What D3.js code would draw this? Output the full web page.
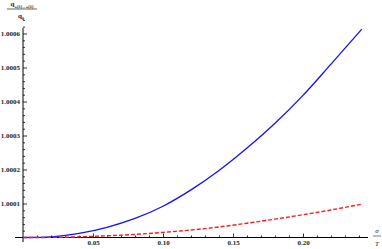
<!DOCTYPE html>
<html>
<head>
<meta charset="utf-8">
<script src="https://cdn.jsdelivr.net/npm/d3@7"></script>
<style>
  body { margin: 0; background: #fff; }
  svg { display: block; font-family: "Liberation Serif", "DejaVu Serif", serif; }
</style>
</head>
<body>
<div id="chart"></div>
<script>
// sigma / T
const sigmaT = [0, 0.02, 0.04, 0.06, 0.08, 0.10, 0.12, 0.14, 0.16, 0.18, 0.20, 0.22, 0.242];
// q_{+(λ),+(λ)} / q_0, solid blue curve
const solidRatio = [1, 1.000002, 1.000012, 1.000030, 1.000056, 1.000092, 1.000140,
                    1.000197, 1.000263, 1.000336, 1.000418, 1.000510, 1.000613];
// dashed red curve
const dashedRatio = [1, 1.0000003, 1.000002, 1.000005, 1.000009, 1.000015, 1.000022,
                     1.000031, 1.000042, 1.000054, 1.000067, 1.000081, 1.000098];

const xMajor = [0.05, 0.10, 0.15, 0.20];
const yMajor = [1.0001, 1.0002, 1.0003, 1.0004, 1.0005, 1.0006];

const width = 382, height = 249;

const svg = d3.select('#chart')
  .append('svg')
  .attr('width', width)
  .attr('height', height);

const x = d3.scaleLinear().domain([0, 0.25]).range([23, 373]);
const y = d3.scaleLinear().domain([1, 1.0006]).range([237.5, 33.5]);

const xMinor = d3.range(0.01, 0.245, 0.01).filter(v => Math.abs(v * 20 - Math.round(v * 20)) > 1e-6);
const yMinor = d3.range(1.00002, 1.00064, 0.00002).filter(v => Math.abs((v - 1) * 10000 - Math.round((v - 1) * 10000)) > 1e-6);

// axis lines (Mathematica style, crossing at origin)
svg.append('line')
  .attr('x1', 15).attr('x2', 368)
  .attr('y1', y(1)).attr('y2', y(1))
  .attr('stroke', '#000').attr('stroke-width', 1);
svg.append('line')
  .attr('x1', x(0)).attr('x2', x(0))
  .attr('y1', 28).attr('y2', 242)
  .attr('stroke', '#000').attr('stroke-width', 1);

// x ticks
const gx = svg.append('g').attr('transform', `translate(0,${y(1)})`);
gx.call(d3.axisBottom(x).tickValues(xMajor).tickSizeInner(-4).tickSizeOuter(0)
  .tickPadding(3).tickFormat(d3.format('.2f')));
gx.append('g').call(d3.axisBottom(x).tickValues(xMinor).tickSizeInner(-2).tickSizeOuter(0).tickFormat(''));

// y ticks
const gy = svg.append('g').attr('transform', `translate(${x(0)},0)`);
gy.call(d3.axisLeft(y).tickValues(yMajor).tickSizeInner(-4).tickSizeOuter(0)
  .tickPadding(3).tickFormat(d3.format('.4f')));
gy.append('g').call(d3.axisLeft(y).tickValues(yMinor).tickSizeInner(-2).tickSizeOuter(0).tickFormat(''));

svg.selectAll('.domain').remove();
svg.selectAll('.tick line').attr('stroke', '#000').attr('stroke-width', 0.8);
svg.selectAll('.tick text')
  .attr('font-size', 7)
  .attr('font-family', '"Liberation Serif", serif')
  .attr('font-weight', 'bold')
  .attr('fill', '#222');

// curves
const solid = sigmaT.map((s, i) => [s, solidRatio[i]]);
const dashed = sigmaT.map((s, i) => [s, dashedRatio[i]]);
const line = d3.line()
  .x(d => x(d[0]))
  .y(d => y(d[1]))
  .curve(d3.curveMonotoneX);

svg.append('path')
  .datum(solid)
  .attr('fill', 'none')
  .attr('stroke', '#1010ff')
  .attr('stroke-width', 1.3)
  .attr('d', line);

svg.append('path')
  .datum(dashed)
  .attr('fill', 'none')
  .attr('stroke', '#ff1a1a')
  .attr('stroke-width', 1.4)
  .attr('stroke-dasharray', '4,2')
  .attr('d', line);

// y axis label: q_{+(λ),+(λ)} / q_0
const yl = svg.append('g').attr('font-size', 7).attr('font-weight', 'bold').attr('fill', '#222');
const num = yl.append('text').attr('x', 22).attr('y', 6).attr('text-anchor', 'middle');
num.append('tspan').text('q');
num.append('tspan').attr('font-size', 4.5).attr('dy', 1.5).text('+(λ) , +(λ)');
yl.append('line').attr('x1', 7).attr('x2', 37).attr('y1', 9).attr('y2', 9)
  .attr('stroke', '#222').attr('stroke-width', 0.7);
const den = yl.append('text').attr('x', 21).attr('y', 18).attr('text-anchor', 'middle');
den.append('tspan').text('q');
den.append('tspan').attr('font-size', 4.5).attr('dy', 1.5).text('0');

// x axis label: σ / T
const xl = svg.append('g').attr('font-size', 7).attr('font-style', 'italic').attr('fill', '#222');
xl.append('text').attr('x', 377).attr('y', 233).attr('text-anchor', 'middle').text('σ');
xl.append('line').attr('x1', 373).attr('x2', 381).attr('y1', 236).attr('y2', 236)
  .attr('stroke', '#222').attr('stroke-width', 0.6);
xl.append('text').attr('x', 377).attr('y', 246).attr('text-anchor', 'middle').text('T');
</script>
</body>
</html>
